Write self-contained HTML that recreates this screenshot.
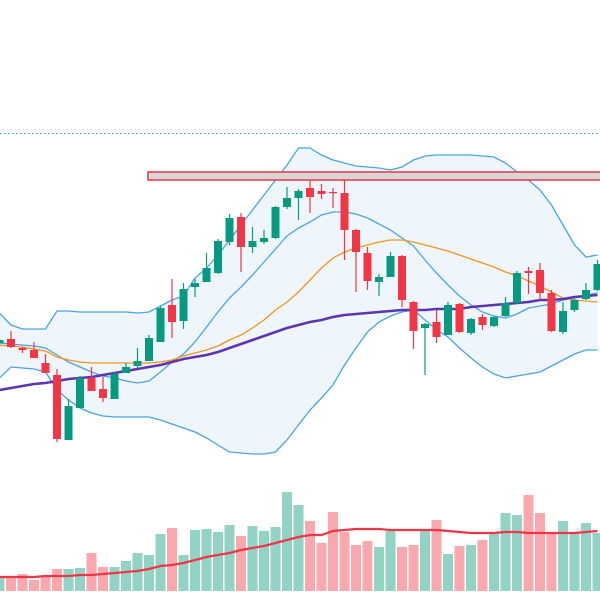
<!DOCTYPE html>
<html><head><meta charset="utf-8"><style>
html,body{margin:0;padding:0;background:#fff;width:600px;height:600px;overflow:hidden;font-family:"Liberation Sans",sans-serif}
</style></head><body>
<svg id="chart" width="600" height="600" viewBox="0 0 600 600" xmlns="http://www.w3.org/2000/svg">
<rect width="600" height="600" fill="#fff"/>
<g id="bands"></g>
<line x1="0" y1="133.5" x2="600" y2="133.5" stroke="#26a69a" stroke-width="1" stroke-dasharray="1.5,2.5"/>
<rect x="148" y="172" width="460" height="8" fill="#d9d6d6" stroke="#e8414f" stroke-width="1.6"/>
<g id="mas"></g>
<g id="candles"></g>
<g id="volume"></g>
</svg>
<script>
const openP=[157,161,152,150,137,125,60,92,122,111,101,127,134,139,158,195,179,213,218,227,258,283,253,258,262,293,302,312,309,308,307,270,247,218,223,244,198,172,178,165,196,167,183,174,184,197,229,230,207,168,190,201,210];
const highP=[161,169,153,158,146,131,101,124,133,123,128,137,152,165,194,221,217,221,247,261,286,287,273,270,294,313,311,320,316,312,320,271,253,226,248,245,199,177,190,198,197,182,186,184,203,229,233,237,210,198,201,217,240];
const lowP=[156,152,147,142,127,58,60,92,109,98,101,127,132,139,158,162,171,203,218,226,255,228,247,256,261,291,280,287,301,292,240,208,210,204,223,193,151,125,157,165,167,165,170,173,183,196,206,200,168,166,188,200,209];
const closeP=[160,153,150,142,127,61,94,122,109,102,126,133,139,162,192,178,211,217,232,259,282,253,259,262,293,302,309,303,306,307,270,248,219,223,244,200,169,176,163,195,168,181,175,183,197,227,227,207,169,189,200,210,236];
const bandUpper=[187,175,171,171,171,189,189,188,188,188,188,188,187,188,194,200,204,222,232,245,260,275,290,305,320,335,352,352,345,340,337,334,333,332,330,333,340,344,345,345,345,345,344,343,337,328,320,310,295,275,255,243,245];
const bandMid=[157,156,155,154,152,145,138,133,128,124,122,119,117,119,128,138,146,158,173,188,202,213,225,238,251,264,272,278,285,288,288,286,282,276,270,262,254,240,227,215,204,195,188,184,182,186,192,194,196,200,202,205,207];
const bandLower=[122,133,132,131,128,110,100,92,87,84,83,83,83,83,80,76,72,68,62,55,48,47,46,46,48,60,75,90,102,115,135,152,168,178,184,188,190,180,170,163,152,142,133,126,122,124,126,128,134,140,146,150,150];
const maFast=[155,154,153,151,149,143,140,138,137,137,137,137,137,137,138,140,144,147,150,154,160,165,172,180,190,198,208,220,232,242,248,252,255,258,260,260,258,255,252,249,245,241,237,233,228,224,219,214,208,202,200,199,198];
const maSlow=[110,112,114,116,117,119,121,122,123,125,127,129,131,133,135,138,141,143,145,148,152,156,160,164,168,172,175,178,180,183,185,186,187,188,189,190,190,190,191,191,191,193,194,195,196,197,198,200,200,201,203,204,205];
const volume=[14,13,17,11,14,22,22,23,38,24,24,30,38,36,57,63,36,61,62,59,66,55,65,60,64,99,86,70,48,79,59,46,50,44,60,44,46,61,71,37,45,46,51,58,78,76,96,78,58,70,58,68,58];
const volumeMA=[14,14,14,14,15,15,15,16,16,17,18,19,20,22,25,26,28,31,34,36,38,41,43,45,48,51,54,56,56,60,61,62,62,62,61,61,61,61,61,60,59,58,58,58,59,59,58,58,58,58,58,59,60];

const NS='http://www.w3.org/2000/svg';
const xOf=i=>-0.5+11.5*i;
const yP=p=>500-p;
const yV=v=>591-v;
function mk(tag,attrs,parent){const e=document.createElementNS(NS,tag);for(const k in attrs)e.setAttribute(k,attrs[k]);parent.appendChild(e);return e;}
function pathOf(arr,yf){return arr.map((v,i)=>(i?'L':'M')+xOf(i).toFixed(1)+','+yf(v).toFixed(1)).join(' ');}

const gB=document.getElementById('bands');
let fillD=pathOf(bandUpper,yP);
for(let i=bandLower.length-1;i>=0;i--)fillD+=' L'+xOf(i).toFixed(1)+','+yP(bandLower[i]).toFixed(1);
const bf=mk('path',{d:fillD+' Z',fill:'#eef6fc'},gB);


[['bollinger-upper',bandUpper],['bollinger-middle',bandMid],['bollinger-lower',bandLower]].forEach(([n,a])=>{
  const p=mk('path',{d:pathOf(a,yP),fill:'none',stroke:'#4aa3e6','stroke-width':1.3},gB);
  
  
});
const gM=document.getElementById('mas');
const m1=mk('path',{d:pathOf(maFast,yP),fill:'none',stroke:'#f7931e','stroke-width':1.3},gM);


const m2=mk('path',{d:pathOf(maSlow,yP),fill:'none',stroke:'#5e35b1','stroke-width':2.6},gM);



const gC=document.getElementById('candles');
openP.forEach((o,i)=>{
  const c=closeP[i],up=c>=o,col=up?'#089981':'#f23645',x=xOf(i);
  const g=mk('g',{},gC);
  
  
  mk('line',{x1:x,x2:x,y1:yP(highP[i]),y2:yP(lowP[i]),stroke:col,'stroke-width':1.2},g);
  const top=yP(Math.max(o,c)),bot=yP(Math.min(o,c));
  mk('rect',{x:x-4,y:top,width:8,height:Math.max(1.2,bot-top),fill:col},g);
});

const gV=document.getElementById('volume');
volume.forEach((v,i)=>{
  const up=closeP[i]>=openP[i];
  const r=mk('rect',{x:xOf(i)-5,y:yV(v),width:10,height:v,fill:up?'#92d3c6':'#f9a9ae'},gV);
  
  
});
const vm=mk('path',{d:pathOf(volumeMA,yV),fill:'none',stroke:'#ef3647','stroke-width':2.2},gV);


</script>
</body></html>
